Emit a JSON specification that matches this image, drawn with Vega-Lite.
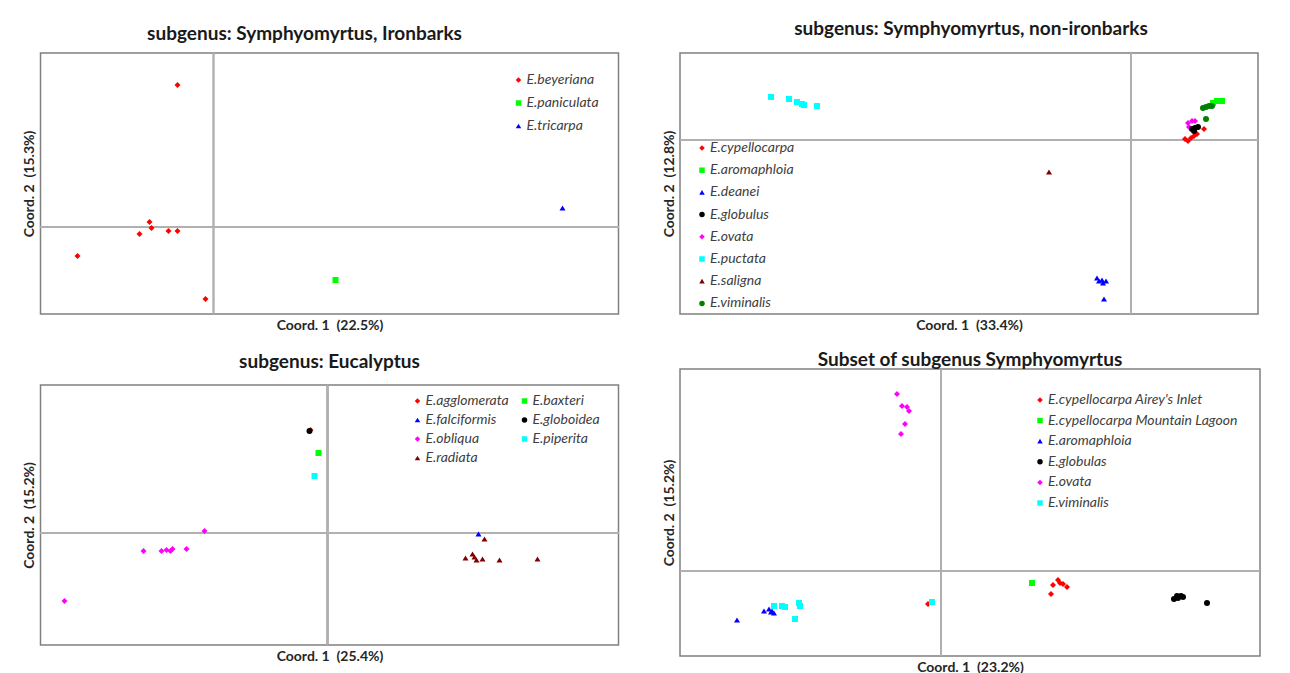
{
  "$schema": "https://vega.github.io/schema/vega-lite/v6.json",
  "background": "white",
  "padding": {"left": 21.5, "top": 19, "right": 0, "bottom": 0},
  "config": {
    "font": "Lato",
    "view": {"stroke": "#808080", "strokeWidth": 1.5},
    "axis": {"labels": false, "ticks": false, "domain": false, "grid": false, "titleFont": "Lato", "titleFontSize": 14, "titleFontWeight": "bold", "titleColor": "#262626", "minExtent": 0, "maxExtent": 0, "titlePadding": 4},
    "title": {"font": "Lato", "fontSize": 19, "fontWeight": "bold", "color": "#1a1a1a", "anchor": "middle"},
    "legend": {"orient": "none", "padding": 0, "labelFont": "Lato", "labelFontStyle": "italic", "labelFontSize": 14, "labelColor": "#404040", "symbolSize": 30, "labelOffset": 1, "symbolStrokeWidth": 0, "labelLimit": 400},
    "point": {"filled": true, "opacity": 1, "size": 36}
  },
  "spacing": 40.5,
  "resolve": {"scale": {"color": "independent", "shape": "independent", "x": "independent", "y": "independent"}, "legend": {"color": "independent", "shape": "independent"}},
  "hconcat": [
    {
      "spacing": 19,
      "resolve": {"scale": {"color": "independent", "shape": "independent", "x": "independent", "y": "independent"}, "legend": {"color": "independent", "shape": "independent"}},
      "vconcat": [
        {
          "width": 578, "height": 261,
          "title": {"text": "subgenus: Symphyomyrtus, Ironbarks", "offset": 8, "dx": -25},
          "data": {"values": [
            {"s": "E.beyeriana", "x": -3.6, "y": 14.2},
            {"s": "E.beyeriana", "x": -6.4, "y": 0.5},
            {"s": "E.beyeriana", "x": -6.2, "y": -0.1},
            {"s": "E.beyeriana", "x": -7.4, "y": -0.7},
            {"s": "E.beyeriana", "x": -4.5, "y": -0.4},
            {"s": "E.beyeriana", "x": -3.6, "y": -0.4},
            {"s": "E.beyeriana", "x": -13.6, "y": -2.9},
            {"s": "E.beyeriana", "x": -0.8, "y": -7.2},
            {"s": "E.paniculata", "x": 12.2, "y": -5.3},
            {"s": "E.tricarpa", "x": 34.9, "y": 1.9}
          ]},
          "layer": [
            {"mark": {"type": "rule", "color": "#b0b0b0", "strokeWidth": 1.2}, "encoding": {"x": {"datum": 0, "type": "quantitative", "title": "Coord. 1\u00a0 (22.5%)"}}},
            {"mark": {"type": "rule", "color": "#b0b0b0", "strokeWidth": 1.2}, "encoding": {"y": {"datum": 0, "type": "quantitative", "title": "Coord. 2\u00a0 (15.3%)"}}},
            {"mark": {"type": "point"},
             "encoding": {
               "x": {"field": "x", "type": "quantitative", "title": "Coord. 1\u00a0 (22.5%)", "scale": {"domain": [-17.3, 40.5], "nice": false, "zero": false}},
               "y": {"field": "y", "type": "quantitative", "title": "Coord. 2\u00a0 (15.3%)", "scale": {"domain": [-8.7, 17.4], "nice": false, "zero": false}},
               "color": {"field": "s", "type": "nominal", "scale": {"domain": ["E.beyeriana", "E.paniculata", "E.tricarpa"], "range": ["#ff0000", "#00ff00", "#0000ff"]}, "legend": {"title": null, "legendX": 471, "legendY": 20, "rowPadding": 9}},
               "shape": {"field": "s", "type": "nominal", "scale": {"domain": ["E.beyeriana", "E.paniculata", "E.tricarpa"], "range": ["diamond", "square", "triangle-up"]}, "legend": {"title": null, "legendX": 471, "legendY": 20, "rowPadding": 9}}
             }}
          ]
        },
        {
          "width": 578, "height": 260,
          "title": {"text": "subgenus: Eucalyptus", "offset": 12},
          "data": {"values": [
            {"s": "E.obliqua", "x": -26.3, "y": -6.8},
            {"s": "E.obliqua", "x": -18.4, "y": -1.8},
            {"s": "E.obliqua", "x": -16.6, "y": -1.8},
            {"s": "E.obliqua", "x": -16.1, "y": -1.7},
            {"s": "E.obliqua", "x": -15.7, "y": -1.8},
            {"s": "E.obliqua", "x": -15.5, "y": -1.6},
            {"s": "E.obliqua", "x": -14.1, "y": -1.6},
            {"s": "E.obliqua", "x": -12.3, "y": 0.2},
            {"s": "E.agglomerata", "x": -1.7, "y": 10.3},
            {"s": "E.globoidea", "x": -1.8, "y": 10.2},
            {"s": "E.baxteri", "x": -0.9, "y": 8.0},
            {"s": "E.piperita", "x": -1.3, "y": 5.7},
            {"s": "E.falciformis", "x": 15.1, "y": -0.1},
            {"s": "E.radiata", "x": 15.7, "y": -0.6},
            {"s": "E.radiata", "x": 13.8, "y": -2.5},
            {"s": "E.radiata", "x": 14.5, "y": -2.1},
            {"s": "E.radiata", "x": 14.7, "y": -2.4},
            {"s": "E.radiata", "x": 14.9, "y": -2.7},
            {"s": "E.radiata", "x": 15.5, "y": -2.6},
            {"s": "E.radiata", "x": 17.2, "y": -2.7},
            {"s": "E.radiata", "x": 21.0, "y": -2.6}
          ]},
          "layer": [
            {"mark": {"type": "rule", "color": "#b0b0b0", "strokeWidth": 1.2}, "encoding": {"x": {"datum": 0, "type": "quantitative", "title": "Coord. 1\u00a0 (25.4%)"}}},
            {"mark": {"type": "rule", "color": "#b0b0b0", "strokeWidth": 1.2}, "encoding": {"y": {"datum": 0, "type": "quantitative", "title": "Coord. 2\u00a0 (15.2%)"}}},
            {"mark": {"type": "point"},
             "encoding": {
               "x": {"field": "x", "type": "quantitative", "title": "Coord. 1\u00a0 (25.4%)", "scale": {"domain": [-28.7, 29.1], "nice": false, "zero": false}},
               "y": {"field": "y", "type": "quantitative", "title": "Coord. 2\u00a0 (15.2%)", "scale": {"domain": [-11.2, 14.8], "nice": false, "zero": false}},
               "color": {"field": "s", "type": "nominal", "scale": {"domain": ["E.agglomerata", "E.falciformis", "E.obliqua", "E.radiata", "E.baxteri", "E.globoidea", "E.piperita"], "range": ["#ff0000", "#0000ff", "#ff00ff", "#800000", "#00ff00", "#000000", "#00ffff"]}, "legend": {"title": null, "legendX": 370, "legendY": 9, "rowPadding": 5, "columns": 2, "columnPadding": 8}},
               "shape": {"field": "s", "type": "nominal", "scale": {"domain": ["E.agglomerata", "E.falciformis", "E.obliqua", "E.radiata", "E.baxteri", "E.globoidea", "E.piperita"], "range": ["diamond", "triangle-up", "diamond", "triangle-up", "square", "circle", "square"]}, "legend": {"title": null, "legendX": 370, "legendY": 9, "rowPadding": 5, "columns": 2, "columnPadding": 8}}
             }}
          ]
        }
      ]
    },
    {
      "spacing": 17,
      "resolve": {"scale": {"color": "independent", "shape": "independent", "x": "independent", "y": "independent"}, "legend": {"color": "independent", "shape": "independent"}},
      "vconcat": [
        {
          "width": 578, "height": 261,
          "title": {"text": "subgenus: Symphyomyrtus, non-ironbarks", "offset": 13, "dx": 2},
          "data": {"values": [
            {"s": "E.puctata", "x": -36.0, "y": 4.3},
            {"s": "E.puctata", "x": -34.2, "y": 4.1},
            {"s": "E.puctata", "x": -33.4, "y": 3.8},
            {"s": "E.puctata", "x": -32.9, "y": 3.6},
            {"s": "E.puctata", "x": -32.7, "y": 3.5},
            {"s": "E.puctata", "x": -31.4, "y": 3.4},
            {"s": "E.saligna", "x": -8.2, "y": -3.2},
            {"s": "E.deanei", "x": -3.4, "y": -13.8},
            {"s": "E.deanei", "x": -3.2, "y": -14.1},
            {"s": "E.deanei", "x": -2.9, "y": -14.0},
            {"s": "E.deanei", "x": -2.5, "y": -14.1},
            {"s": "E.deanei", "x": -2.8, "y": -14.3},
            {"s": "E.deanei", "x": -2.7, "y": -15.9},
            {"s": "E.aromaphloia", "x": 8.2, "y": 3.7},
            {"s": "E.aromaphloia", "x": 8.6, "y": 3.9},
            {"s": "E.aromaphloia", "x": 9.1, "y": 3.9},
            {"s": "E.viminalis", "x": 7.2, "y": 3.2},
            {"s": "E.viminalis", "x": 7.5, "y": 3.3},
            {"s": "E.viminalis", "x": 7.8, "y": 3.4},
            {"s": "E.viminalis", "x": 8.1, "y": 3.4},
            {"s": "E.viminalis", "x": 7.5, "y": 2.1},
            {"s": "E.ovata", "x": 5.7, "y": 1.7},
            {"s": "E.ovata", "x": 6.1, "y": 1.9},
            {"s": "E.ovata", "x": 6.4, "y": 1.9},
            {"s": "E.ovata", "x": 5.8, "y": 1.3},
            {"s": "E.cypellocarpa", "x": 7.3, "y": 1.1},
            {"s": "E.cypellocarpa", "x": 5.4, "y": 0.1},
            {"s": "E.cypellocarpa", "x": 5.7, "y": -0.1},
            {"s": "E.cypellocarpa", "x": 6.0, "y": 0.2},
            {"s": "E.cypellocarpa", "x": 6.3, "y": 0.4},
            {"s": "E.cypellocarpa", "x": 6.6, "y": 0.6},
            {"s": "E.globulus", "x": 6.1, "y": 1.1},
            {"s": "E.globulus", "x": 6.4, "y": 1.2},
            {"s": "E.globulus", "x": 6.7, "y": 1.3},
            {"s": "E.globulus", "x": 6.3, "y": 0.9}
          ]},
          "layer": [
            {"mark": {"type": "rule", "color": "#b0b0b0", "strokeWidth": 1.2}, "encoding": {"x": {"datum": 0, "type": "quantitative", "title": "Coord. 1\u00a0 (33.4%)"}}},
            {"mark": {"type": "rule", "color": "#b0b0b0", "strokeWidth": 1.2}, "encoding": {"y": {"datum": 0, "type": "quantitative", "title": "Coord. 2\u00a0 (12.8%)"}}},
            {"mark": {"type": "point"},
             "encoding": {
               "x": {"field": "x", "type": "quantitative", "title": "Coord. 1\u00a0 (33.4%)", "scale": {"domain": [-45.1, 12.7], "nice": false, "zero": false}},
               "y": {"field": "y", "type": "quantitative", "title": "Coord. 2\u00a0 (12.8%)", "scale": {"domain": [-17.4, 8.7], "nice": false, "zero": false}},
               "color": {"field": "s", "type": "nominal", "scale": {"domain": ["E.cypellocarpa", "E.aromaphloia", "E.deanei", "E.globulus", "E.ovata", "E.puctata", "E.saligna", "E.viminalis"], "range": ["#ff0000", "#00ff00", "#0000ff", "#000000", "#ff00ff", "#00ffff", "#800000", "#008000"]}, "legend": {"title": null, "legendX": 15, "legendY": 88, "rowPadding": 8.2}},
               "shape": {"field": "s", "type": "nominal", "scale": {"domain": ["E.cypellocarpa", "E.aromaphloia", "E.deanei", "E.globulus", "E.ovata", "E.puctata", "E.saligna", "E.viminalis"], "range": ["diamond", "square", "triangle-up", "circle", "diamond", "square", "triangle-up", "circle"]}, "legend": {"title": null, "legendX": 15, "legendY": 88, "rowPadding": 8.2}}
             }}
          ]
        },
        {
          "width": 580, "height": 287,
          "title": {"text": "Subset of subgenus Symphyomyrtus", "offset": -2},
          "data": {"values": [
            {"s": "E.ovata", "x": -4.4, "y": 17.7},
            {"s": "E.ovata", "x": -3.9, "y": 16.5},
            {"s": "E.ovata", "x": -3.4, "y": 16.4},
            {"s": "E.ovata", "x": -3.2, "y": 16.0},
            {"s": "E.ovata", "x": -3.6, "y": 14.7},
            {"s": "E.ovata", "x": -4.0, "y": 13.7},
            {"s": "E.aromaphloia", "x": -20.4, "y": -4.9},
            {"s": "E.aromaphloia", "x": -17.7, "y": -4.0},
            {"s": "E.aromaphloia", "x": -17.2, "y": -3.8},
            {"s": "E.aromaphloia", "x": -17.0, "y": -4.1},
            {"s": "E.aromaphloia", "x": -16.7, "y": -4.2},
            {"s": "E.aromaphloia", "x": -16.9, "y": -4.0},
            {"s": "E.cypellocarpa Airey's Inlet", "x": -1.3, "y": -3.3},
            {"s": "E.viminalis", "x": -16.7, "y": -3.5},
            {"s": "E.viminalis", "x": -15.9, "y": -3.5},
            {"s": "E.viminalis", "x": -15.6, "y": -3.6},
            {"s": "E.viminalis", "x": -14.2, "y": -3.2},
            {"s": "E.viminalis", "x": -14.1, "y": -3.5},
            {"s": "E.viminalis", "x": -14.6, "y": -4.8},
            {"s": "E.viminalis", "x": -0.9, "y": -3.1},
            {"s": "E.cypellocarpa Airey's Inlet", "x": 11.0, "y": -2.3},
            {"s": "E.cypellocarpa Airey's Inlet", "x": 11.2, "y": -1.4},
            {"s": "E.cypellocarpa Airey's Inlet", "x": 11.7, "y": -0.9},
            {"s": "E.cypellocarpa Airey's Inlet", "x": 11.9, "y": -1.2},
            {"s": "E.cypellocarpa Airey's Inlet", "x": 12.2, "y": -1.3},
            {"s": "E.cypellocarpa Airey's Inlet", "x": 12.6, "y": -1.6},
            {"s": "E.cypellocarpa Mountain Lagoon", "x": 9.1, "y": -1.2},
            {"s": "E.globulas", "x": 23.3, "y": -2.8},
            {"s": "E.globulas", "x": 23.6, "y": -2.5},
            {"s": "E.globulas", "x": 24.0, "y": -2.5},
            {"s": "E.globulas", "x": 24.2, "y": -2.6},
            {"s": "E.globulas", "x": 23.7, "y": -2.7},
            {"s": "E.globulas", "x": 26.6, "y": -3.2}
          ]},
          "layer": [
            {"mark": {"type": "rule", "color": "#b0b0b0", "strokeWidth": 1.2}, "encoding": {"x": {"datum": 0, "type": "quantitative", "title": "Coord. 1\u00a0 (23.2%)"}}},
            {"mark": {"type": "rule", "color": "#b0b0b0", "strokeWidth": 1.2}, "encoding": {"y": {"datum": 0, "type": "quantitative", "title": "Coord. 2\u00a0 (15.2%)"}}},
            {"mark": {"type": "point"},
             "encoding": {
               "x": {"field": "x", "type": "quantitative", "title": "Coord. 1\u00a0 (23.2%)", "scale": {"domain": [-26.1, 31.9], "nice": false, "zero": false}},
               "y": {"field": "y", "type": "quantitative", "title": "Coord. 2\u00a0 (15.2%)", "scale": {"domain": [-8.5, 20.2], "nice": false, "zero": false}},
               "color": {"field": "s", "type": "nominal", "scale": {"domain": ["E.cypellocarpa Airey's Inlet", "E.cypellocarpa Mountain Lagoon", "E.aromaphloia", "E.globulas", "E.ovata", "E.viminalis"], "range": ["#ff0000", "#00ff00", "#0000ff", "#000000", "#ff00ff", "#00ffff"]}, "legend": {"title": null, "legendX": 353, "legendY": 24, "rowPadding": 6.6}},
               "shape": {"field": "s", "type": "nominal", "scale": {"domain": ["E.cypellocarpa Airey's Inlet", "E.cypellocarpa Mountain Lagoon", "E.aromaphloia", "E.globulas", "E.ovata", "E.viminalis"], "range": ["diamond", "square", "triangle-up", "circle", "diamond", "square"]}, "legend": {"title": null, "legendX": 353, "legendY": 24, "rowPadding": 6.6}}
             }}
          ]
        }
      ]
    }
  ]
}
